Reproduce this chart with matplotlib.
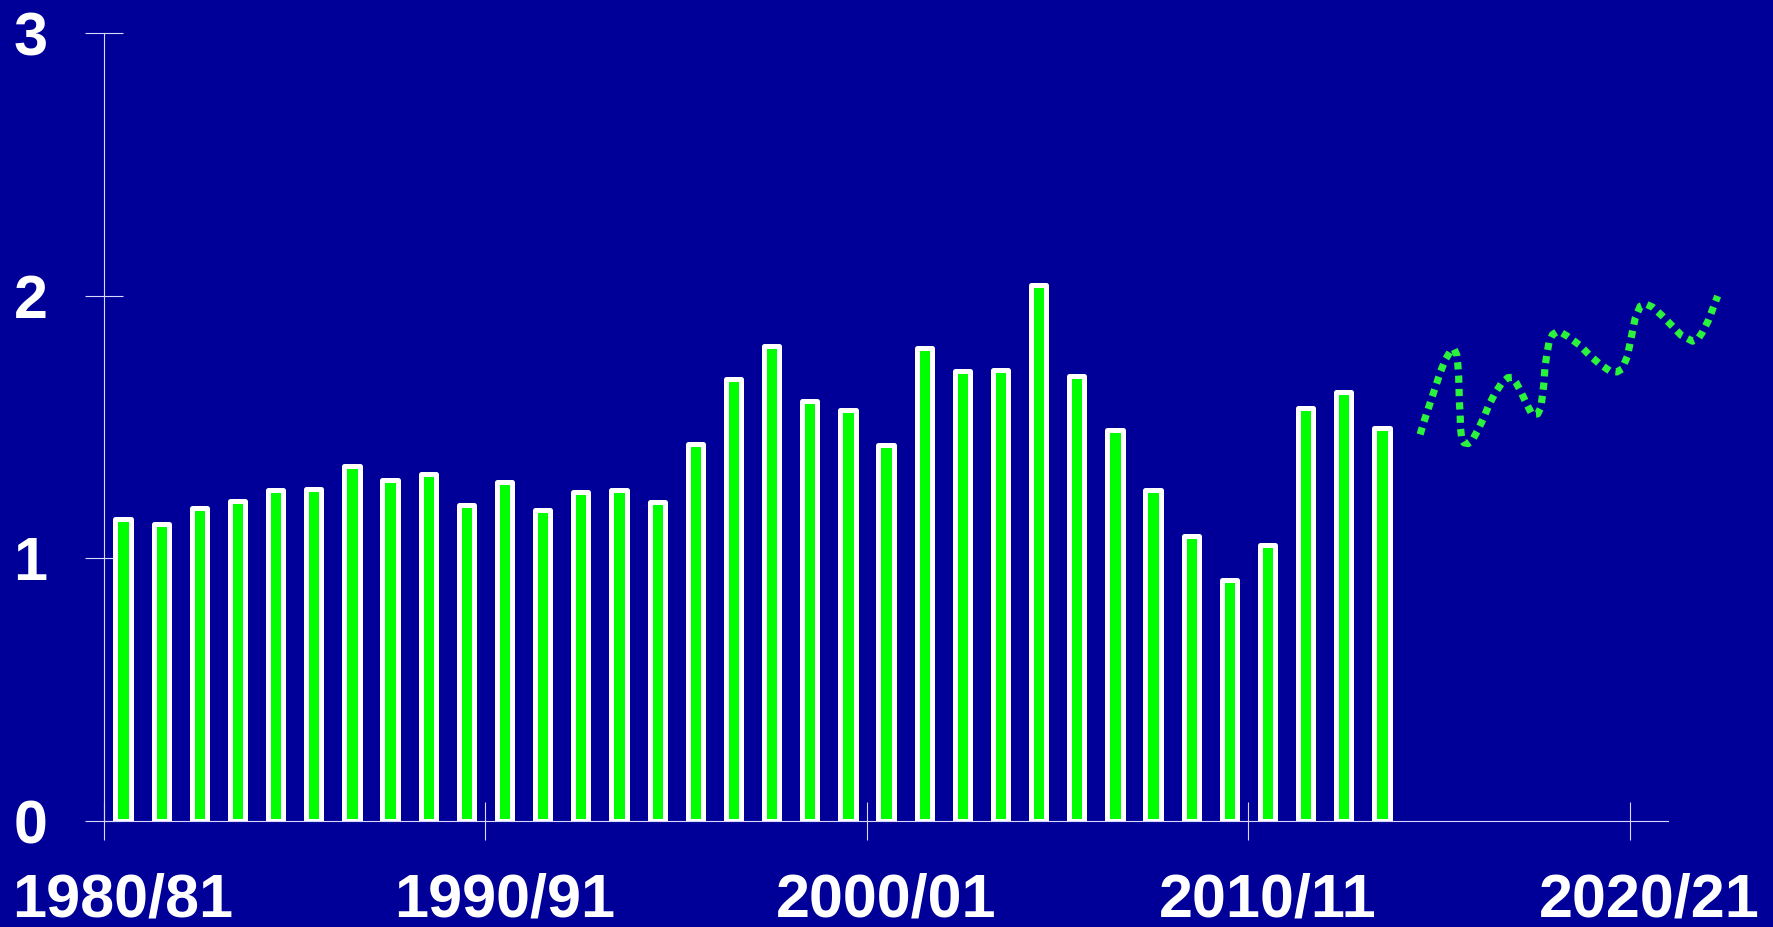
import matplotlib
matplotlib.use('Agg')
import matplotlib.pyplot as plt

# Values per financial year, 1980/81 .. 2013/14
years = ['1980/81', '1981/82', '1982/83', '1983/84', '1984/85', '1985/86',
         '1986/87', '1987/88', '1988/89', '1989/90', '1990/91', '1991/92',
         '1992/93', '1993/94', '1994/95', '1995/96', '1996/97', '1997/98',
         '1998/99', '1999/00', '2000/01', '2001/02', '2002/03', '2003/04',
         '2004/05', '2005/06', '2006/07', '2007/08', '2008/09', '2009/10',
         '2010/11', '2011/12', '2012/13', '2013/14']
values = [1.15, 1.13, 1.19, 1.22, 1.26, 1.265, 1.35, 1.30, 1.32, 1.205,
          1.29, 1.185, 1.253, 1.26, 1.216, 1.434, 1.684, 1.809, 1.60, 1.564,
          1.433, 1.802, 1.712, 1.719, 2.041, 1.693, 1.488, 1.259, 1.086,
          0.917, 1.05, 1.573, 1.634, 1.498]

# Forecast curve (x in year slots from 1980/81)
forecast_x = [34.50, 34.60, 34.71, 34.82, 34.93, 35.04, 35.17, 35.30, 35.39,
              35.46, 35.49, 35.51, 35.52, 35.53, 35.55, 35.56, 35.59, 35.65,
              35.76, 35.86, 36.02, 36.17, 36.30, 36.46, 36.64, 36.80, 36.91,
              37.02, 37.12, 37.27, 37.43, 37.58, 37.66, 37.71, 37.75, 37.77,
              37.82, 37.88, 37.97, 38.08, 38.22, 38.38, 38.69, 38.93, 39.20,
              39.48, 39.66, 39.79, 39.93, 40.00, 40.07, 40.14, 40.27, 40.42,
              40.59, 40.85, 41.10, 41.34, 41.64, 41.78, 41.89, 42.05, 42.17,
              42.30]
forecast_y = [1.472, 1.520, 1.569, 1.617, 1.665, 1.713, 1.759, 1.790, 1.797,
              1.775, 1.735, 1.695, 1.646, 1.595, 1.545, 1.495, 1.455, 1.440,
              1.437, 1.448, 1.490, 1.537, 1.583, 1.628, 1.668, 1.688, 1.689,
              1.668, 1.641, 1.595, 1.549, 1.550, 1.573, 1.622, 1.674, 1.725,
              1.775, 1.824, 1.852, 1.862, 1.858, 1.844, 1.811, 1.775, 1.741,
              1.713, 1.710, 1.721, 1.768, 1.817, 1.867, 1.916, 1.960, 1.968,
              1.957, 1.923, 1.886, 1.850, 1.827, 1.835, 1.859, 1.904, 1.950,
              1.999]

label_years = ['1980/81', '1990/91', '2000/01', '2010/11', '2020/21']

bg = '#000099'
axis_col = '#D8D8FF'

fig = plt.figure(figsize=(17.73, 9.27), dpi=100, facecolor=bg)
ax = fig.add_axes([0.05866, 0.1143, 0.9252, 0.8500], facecolor=bg)

pos = [i + 0.5 for i in range(len(values))]
ax.bar(pos, values, width=0.4, color='#00FF00', edgecolor='white',
       linewidth=3.6, joinstyle='round', zorder=3)

ax.plot(forecast_x, forecast_y, color='#2BF23B', linewidth=5.2,
        linestyle=(0, (1.0, 0.85)), dash_capstyle='butt', zorder=4,
        clip_on=False)

ax.set_xlim(0, 43)
ax.set_ylim(0, 3)

for s in ['top', 'right']:
    ax.spines[s].set_visible(False)
for s in ['left', 'bottom']:
    ax.spines[s].set_color(axis_col)
    ax.spines[s].set_linewidth(0.8)
ax.spines['bottom'].set_bounds(0, 41)

ax.set_yticks([0, 1, 2, 3])
ax.set_yticklabels(['0', '1', '2', '3'])
ax.tick_params(axis='y', direction='inout', length=27.4, width=0.8,
               color=axis_col, pad=27, labelsize=44, labelcolor='white')

ax.set_xticks([0, 10, 20, 30, 40])
ax.set_xticklabels([])
ax.set_xticks([0.5, 10.5, 20.5, 30.5, 40.5], minor=True)
ax.set_xticklabels(label_years, minor=True)
ax.tick_params(axis='x', which='major', direction='inout', length=27.4,
               width=0.8, color=axis_col)
ax.tick_params(axis='x', which='minor', length=0, pad=37, labelsize=44,
               labelcolor='white')

for lab in ax.get_xticklabels(minor=True) + ax.get_yticklabels():
    lab.set_fontfamily('Liberation Sans')
    lab.set_fontweight('bold')

fig.savefig('out.png', dpi=100, facecolor=bg)
